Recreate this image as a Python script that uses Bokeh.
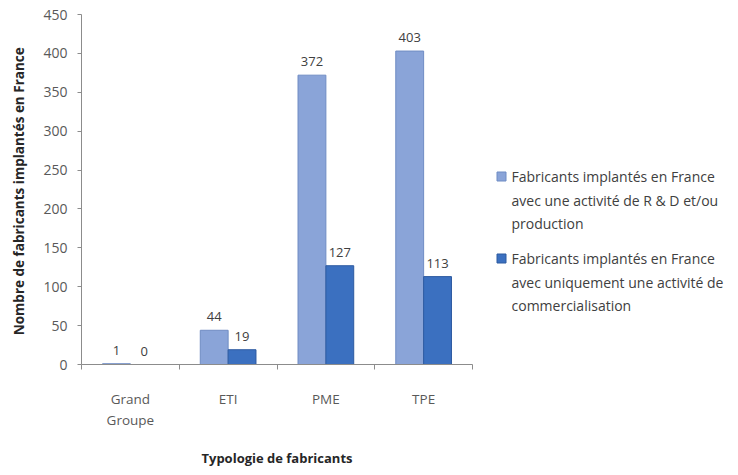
from bokeh.plotting import figure
from bokeh.models import ColumnDataSource, Range1d, FixedTicker
from bokeh.layouts import row
from bokeh.core.properties import value
from bokeh.embed import file_html
from bokeh.resources import INLINE

# ---- data ----
categories = ["Grand\nGroupe", "ETI", "PME", "TPE"]
rd_production = [1, 44, 372, 403]
commercialisation = [0, 19, 127, 113]
y_ticks = [0, 50, 100, 150, 200, 250, 300, 350, 400, 450]
series_names = [
    "Fabricants implantés en France\navec une activité de R & D et/ou\nproduction",
    "Fabricants implantés en France\navec uniquement une activité  de\ncommercialisation",
]
x_title = "Typologie de fabricants"
y_title = "Nombre de fabricants  implantés en France"

FONT = "Open Sans"
LIGHT = "#8aa4d8"
LIGHT_EDGE = "#6f8cc4"
DARK = "#3b70c0"
DARK_EDGE = "#2d5aa0"
AXIS = "#8c8c8c"

n = len(categories)
centers = [i + 0.5 for i in range(n)]
bw = 0.285

src = ColumnDataSource(dict(
    xl=[c - bw / 2 for c in centers],
    xd=[c + bw / 2 for c in centers],
    a=rd_production,
    b=commercialisation,
    ta=[str(v) for v in rd_production],
    tb=[str(v) for v in commercialisation],
))

p = figure(width=480, height=475, x_range=Range1d(0, n), y_range=Range1d(0, 450),
           output_backend="svg", toolbar_location=None,
           min_border_left=81, min_border_right=8, min_border_top=14, min_border_bottom=111)
p.outline_line_color = None
p.xgrid.visible = False
p.ygrid.visible = False
p.background_fill_color = "white"
p.border_fill_color = "white"

p.vbar(x="xl", top="a", width=bw, source=src, fill_color=LIGHT, line_color=LIGHT_EDGE, line_width=1)
p.vbar(x="xd", top="b", width=bw, source=src, fill_color=DARK, line_color=DARK_EDGE, line_width=1)

for xcol, ycol, tcol in (("xl", "a", "ta"), ("xd", "b", "tb")):
    p.text(x=xcol, y=ycol, text=tcol, source=src, text_align="center", text_baseline="bottom",
           y_offset=-9, text_font=value(FONT), text_font_size="13px", text_color="#404040")

# y axis
ya = p.yaxis[0]
ya.ticker = FixedTicker(ticks=y_ticks)
ya.axis_line_color = AXIS
ya.major_tick_line_color = AXIS
ya.major_tick_out = 4
ya.major_tick_in = 0
ya.minor_tick_line_color = None
ya.major_label_standoff = 10
ya.major_label_text_font = FONT
ya.major_label_text_font_size = "14px"
ya.major_label_text_color = "#595959"
ya.axis_label = y_title
ya.axis_label_text_font = FONT
ya.axis_label_text_font_style = "bold"
ya.axis_label_text_font_size = "13.5px"
ya.axis_label_text_color = "#262626"
ya.axis_label_standoff = 12

# x axis
xa = p.xaxis[0]
xa.ticker = FixedTicker(ticks=centers, minor_ticks=list(range(n + 1)))
xa.major_label_overrides = {c: lab for c, lab in zip(centers, categories)}
xa.axis_line_color = AXIS
xa.major_tick_line_color = None
xa.major_tick_out = 0
xa.major_tick_in = 0
xa.minor_tick_line_color = AXIS
xa.minor_tick_out = 5
xa.minor_tick_in = 0
xa.major_label_standoff = 20
xa.major_label_text_font = FONT
xa.major_label_text_font_size = "13.5px"
xa.major_label_text_color = "#595959"
xa.axis_label = x_title
xa.axis_label_text_font = FONT
xa.axis_label_text_font_style = "bold"
xa.axis_label_text_font_size = "13px"
xa.axis_label_text_color = "#262626"
xa.axis_label_standoff = 17

# ---- legend panel (its frame is aligned with the chart frame: y 14..364 px) ----
leg = figure(width=258, height=475, x_range=Range1d(0, 258), y_range=Range1d(364, 14),
             output_backend="svg", toolbar_location=None,
             min_border=0, x_axis_location=None, y_axis_location=None)
leg.outline_line_color = None
leg.xgrid.visible = False
leg.ygrid.visible = False

item_top = [176, 258]
line_step = 23.5
fills = [LIGHT, DARK]
edges = [LIGHT_EDGE, DARK_EDGE]

leg_src = ColumnDataSource(dict(sx=[21, 21], sy=item_top, fill=fills, edge=edges))
leg.scatter(x="sx", y="sy", source=leg_src, marker="square", size=9,
            fill_color="fill", line_color="edge")

lx, ly, lt = [], [], []
for top, name in zip(item_top, series_names):
    for k, line in enumerate(name.split("\n")):
        lx.append(31)
        ly.append(top + k * line_step)
        lt.append(line)
leg.text(x=lx, y=ly, text=lt, text_align="left", text_baseline="middle",
         text_font=value(FONT), text_font_size="14px", text_color="#404040")

layout = row(p, leg)
open("out.html", "w").write(file_html(layout, INLINE))
